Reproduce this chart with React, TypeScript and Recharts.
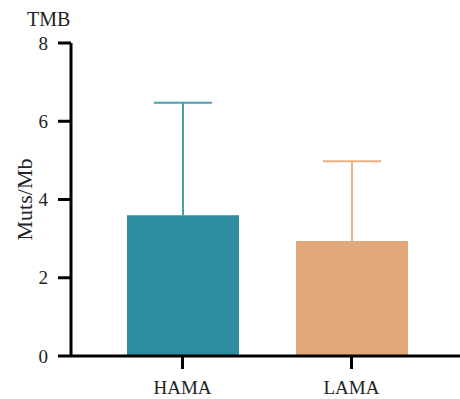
import { BarChart, Bar, XAxis, YAxis, Cell } from 'recharts';

// group names and measured values (Muts/Mb)
const groups = ['HAMA', 'LAMA'];
const means = [3.6, 2.94];
const upperErr = [2.87, 2.04];
const yTicks = [0, 2, 4, 6, 8];

const barColors = ['#2E8CA0', '#E2A77B'];
const errColors = ['#4A9DB1', '#EDB185'];

const data = groups.map((name, i) => ({
  name,
  value: means[i],
  err: upperErr[i],
}));

const font = '"Liberation Serif", "Times New Roman", serif';
const tickStyle = { fontFamily: font, fontSize: 19, fill: '#222' };

// upper-only whisker drawn on the stacked error segment
function Whisker(props: any) {
  const { x, y, width, height, index } = props;
  const cx = x + width / 2;
  const color = errColors[index];
  return (
    <g>
      <line x1={cx} y1={y + height} x2={cx} y2={y} stroke={color} strokeWidth={2} />
      <line x1={cx - 29} y1={y} x2={cx + 29} y2={y} stroke={color} strokeWidth={2} />
    </g>
  );
}

export default function App() {
  return (
    <div style={{ position: 'absolute', left: 0, top: 0, width: 460, height: 399, background: '#fff' }}>
      <div
        style={{
          position: 'absolute',
          left: 27,
          top: 8,
          fontFamily: font,
          fontSize: 20,
          color: '#222',
        }}
      >
        TMB
      </div>
      <BarChart
        width={460}
        height={399}
        data={data}
        margin={{ top: 43, right: 0, bottom: 0, left: 0 }}
        barSize={112}
      >
        <XAxis
          dataKey="name"
          height={43}
          padding={{ left: 27, right: 24 }}
          axisLine={{ stroke: '#000', strokeWidth: 3 }}
          tickLine={{ stroke: '#000', strokeWidth: 3 }}
          tickSize={13}
          tickMargin={12}
          tick={tickStyle}
        />
        <YAxis
          width={71}
          domain={[0, 8]}
          ticks={yTicks}
          axisLine={{ stroke: '#000', strokeWidth: 3 }}
          tickLine={{ stroke: '#000', strokeWidth: 3 }}
          tickSize={13}
          tickMargin={10}
          tick={tickStyle}
          label={{
            value: 'Muts/Mb',
            angle: -90,
            position: 'insideLeft',
            offset: 24,
            style: { fontFamily: font, fontSize: 22, fill: '#222', textAnchor: 'middle' },
          }}
        />
        <Bar dataKey="value" stackId="a" isAnimationActive={false}>
          {data.map((d, i) => (
            <Cell key={d.name} fill={barColors[i]} />
          ))}
        </Bar>
        <Bar dataKey="err" stackId="a" isAnimationActive={false} shape={<Whisker />} />
      </BarChart>
    </div>
  );
}
